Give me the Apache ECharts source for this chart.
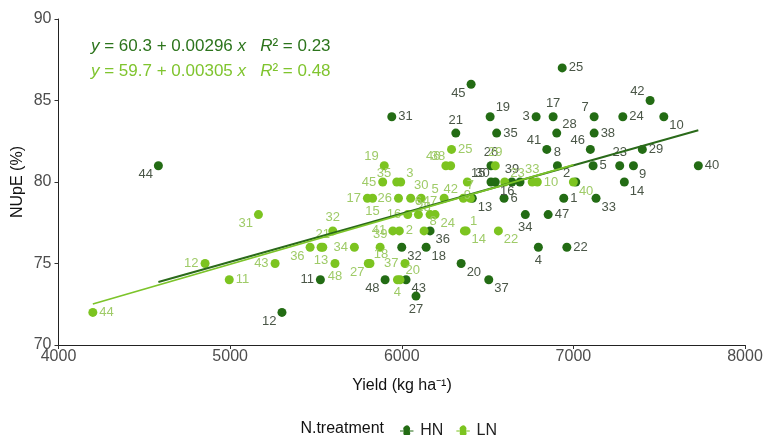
<!DOCTYPE html>
<html><head><meta charset="utf-8">
<script src="https://cdn.jsdelivr.net/npm/echarts@6/dist/echarts.min.js"></script>
<style>html,body{margin:0;padding:0;background:#fff}#c{width:767px;height:435px}</style>
</head><body><div id="c"></div>
<script>
// ---- data ----
const hnId    = [1,2,3,4,5,6,7,8,9,10,11,12,13,14,15,16,17,18,19,20,21,22,23,24,25,26,27,28,29,30,31,32,33,34,35,36,37,38,39,40,41,42,43,44,45,46,47,48];
const hnYield = [6944,7014,6783,6796,7115,6596,7121,6907,7350,7527,5526,5302,6411,7297,6520,6689,6882,6142,6515,6346,6315,6962,7270,7288,6935,6520,6083,6903,7402,6545,5942,6000,7132,6720,6553,6165,6507,7121,6642,7728,6845,7447,6025,4582,6404,7099,6853,5903];
const hnNUpE  = [79,80,84,76,81,79,84,81,81,84,74,72,79,80,80,80,84,76,84,75,83,76,81,84,87,81,73,83,82,80,84,76,79,78,83,77,74,83,80,81,82,85,74,81,86,82,78,74];
const lnId    = [1,2,3,4,5,6,7,8,9,10,11,12,13,14,15,16,17,18,19,20,21,22,23,24,25,26,27,28,29,30,31,32,33,34,35,36,37,38,39,40,41,42,43,44,45,46,47,48];
const lnYield = [6365,5986,5994,5975,6247,6097,6400,6130,6382,6790,4995,4854,5530,6375,5830,6035,5800,5805,5898,5990,5540,6563,6600,6194,6290,5981,5815,6052,6545,6113,5165,5598,6760,5724,5971,5466,6019,6285,5874,7000,5948,6359,5262,4200,5889,6257,6165,5611];
const lnNUpE  = [77,77,80,74,79,78,79,77,80,80,74,75,76,77,79,78,79,75,81,74,76,77,80,78,82,79,75,79,81,79,78,77,80,76,80,76,75,81,76,80,77,79,75,72,80,81,78,75];
const xTicks = [4000, 5000, 6000, 7000, 8000];
const yTicks = [70, 75, 80, 85, 90];
const hnFit = [60.3, 0.00296, 0.23];
const lnFit = [59.7, 0.00305, 0.48];
const groups = ['HN', 'LN'];

// ---- style ----
const HN_COL = '#236c14', LN_COL = '#7cc420';
const HN_TXT = '#4a5647', LN_TXT = '#9fcb68';
const FONT = '"Liberation Sans", Arial, sans-serif';
const POS = {r:['right',[-1,0]], l:['left',[1,0]], t:['top',[0,1]], b:['bottom',[0,-1]],
             tr:['right',[-2,-9]], br:['right',[-2,9]], tl:['left',[2,-9]], bl:['left',[2,9]]};
const hnLabelPos = ['r','tl','l','b','r','r','tl','t','br','br','l','bl','br','br','tl','bl','t','br','tr','br','t','r','t','r','r','t','b','tr','r','tl','r','br','br','b','r','br','br','r','t','r','tl','tl','br','bl','bl','tl','r','bl'];
const lnLabelPos = ['tr','r','tr','b','tl','t','t','tr','b','r','r','l','b','br','b','l','l','tr','tl','tr','t','br','tr','br','r','l','bl','br','t','t','bl','t','t','l','tl','bl','l','tl','t','br','l','tl','l','r','l','tl','t','b'];

function pts(ids, xs, ys, pos) {
  return ids.map((id, i) => {
    const p = POS[pos[i]];
    return {value: [xs[i], ys[i], id], label: {position: p[0], offset: p[1]}};
  });
}
function fitLine(xs, f) {
  const lo = Math.min(...xs), hi = Math.max(...xs);
  return [[lo, f[0] + f[1] * lo], [hi, f[0] + f[1] * hi]];
}
function eq(f) {
  return '{i|y} = ' + f[0].toFixed(1) + ' + ' + String(f[1]) + ' {i|x}   {i|R}² = ' + f[2].toFixed(2);
}

const chart = echarts.init(document.getElementById('c'), null, {renderer: 'canvas'});
const legendIcon = 'path://M0,4.4h4.5a4,4 0 1,1 7,0h4.5v1.2h-4.5a4,4 0 1,1 -7,0h-4.5z';
chart.setOption({
  animation: false,
  textStyle: {fontFamily: FONT},
  grid: {left: 58.5, right: 22, top: 19, bottom: 90, containLabel: false},
  xAxis: {
    type: 'value', min: xTicks[0], max: xTicks[xTicks.length - 1], interval: xTicks[1] - xTicks[0],
    splitLine: {show: false},
    axisLine: {lineStyle: {color: '#222', width: 1}},
    axisTick: {show: true, length: 4, lineStyle: {color: '#333'}},
    axisLabel: {color: '#4d4d4d', fontSize: 16, margin: 4, fontFamily: FONT, formatter: v => String(v)}
  },
  yAxis: {
    type: 'value', min: yTicks[0], max: yTicks[yTicks.length - 1], interval: yTicks[1] - yTicks[0],
    splitLine: {show: false},
    axisLine: {show: true, lineStyle: {color: '#222', width: 1}},
    axisTick: {show: true, length: 4, lineStyle: {color: '#333'}},
    axisLabel: {color: '#4d4d4d', fontSize: 16, margin: 7, fontFamily: FONT, formatter: v => String(v)}
  },
  legend: {
    data: groups.map((g, i) => ({name: g, icon: legendIcon, itemStyle: {color: i ? LN_COL : HN_COL}})),
    left: 395, top: 418, itemWidth: 17, itemHeight: 11, itemGap: 13,
    textStyle: {fontSize: 16, color: '#222', fontFamily: FONT}
  },
  graphic: [
    {type: 'text', left: 91, top: 38, style: {text: eq(hnFit), fontSize: 17, fill: '#2c741c', font: '17px ' + FONT,
      rich: {i: {fontStyle: 'italic', fontSize: 17, fill: '#2c741c'}}}},
    {type: 'text', left: 91, top: 63, style: {text: eq(lnFit), fontSize: 17, fill: '#7fc42e', font: '17px ' + FONT,
      rich: {i: {fontStyle: 'italic', fontSize: 17, fill: '#7fc42e'}}}},
    {type: 'text', x: 402, y: 386, style: {text: 'Yield (kg ha⁻¹)', font: '16px ' + FONT, fill: '#111', align: 'center', verticalAlign: 'middle'}},
    {type: 'text', x: 18, y: 182, rotation: Math.PI / 2, style: {text: 'NUpE (%)', font: '16px ' + FONT, fill: '#111', align: 'center', verticalAlign: 'middle'}},
    {type: 'text', x: 384, y: 429, style: {text: 'N.treatment', font: '16px ' + FONT, fill: '#111', align: 'right', verticalAlign: 'middle'}}
  ],
  series: [
    {name: 'HN', type: 'scatter', symbolSize: 9, itemStyle: {color: HN_COL, opacity: 1}, z: 2,
     data: pts(hnId, hnYield, hnNUpE, hnLabelPos),
     label: {show: true, formatter: p => p.value[2], fontSize: 13, color: HN_TXT, distance: 3, fontFamily: FONT},
     emphasis: {disabled: true}},
    {name: 'LN', type: 'scatter', symbolSize: 9, itemStyle: {color: LN_COL, opacity: 1}, z: 2,
     data: pts(lnId, lnYield, lnNUpE, lnLabelPos),
     label: {show: true, formatter: p => p.value[2], fontSize: 13, color: LN_TXT, distance: 3, fontFamily: FONT},
     emphasis: {disabled: true}},
    {name: 'HN fit', type: 'line', data: fitLine(hnYield, hnFit), symbol: 'none', silent: true, z: 3,
     lineStyle: {color: '#2a6a1a', width: 2}},
    {name: 'LN fit', type: 'line', data: fitLine(lnYield, lnFit), symbol: 'none', silent: true, z: 3,
     lineStyle: {color: '#7cc42a', width: 1.6}}
  ]
});
</script></body></html>
